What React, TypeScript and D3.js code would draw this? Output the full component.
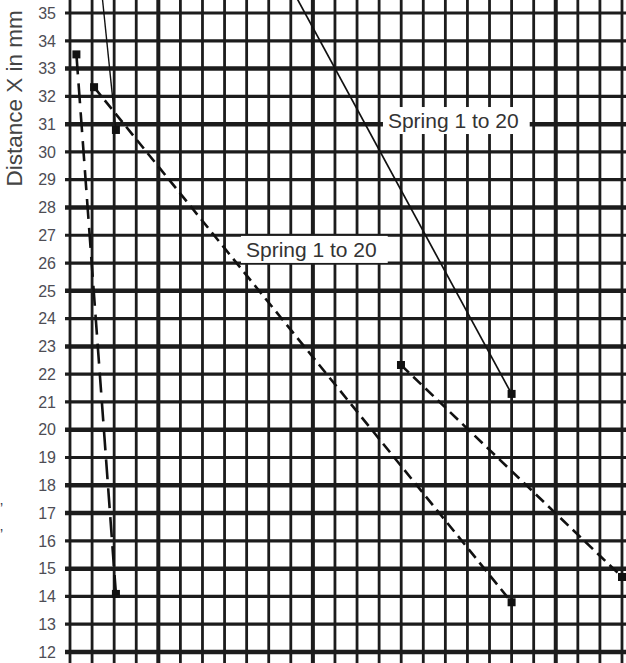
import React, { useEffect, useRef } from "react";
import * as d3 from "d3";

// y tick labels (distance X in mm)
const yTicks = [12, 13, 14, 15, 16, 17, 18, 19, 20, 21, 22, 23, 24, 25, 26, 27, 28, 29, 30, 31, 32, 33, 34, 35];
// heavier horizontal rules on the graph paper
const thickRows = [33, 31, 28, 25, 23, 20, 18, 17, 15, 12];
// vertical grid columns (unlabelled x axis)
const xCols = [0, 1, 2, 3, 4, 5, 6, 7, 8, 9, 10, 11, 12, 13, 14, 15, 16, 17, 18, 19, 20, 21, 22, 23, 24, 25];
const thickCols = [4, 11, 22];

// measured curves
const dashedSteep = [{ x: 0.29, y: 33.51 }, { x: 2.08, y: 14.09 }];
const dashedMid = [{ x: 1.09, y: 32.33 }, { x: 20.0, y: 13.79 }];
const dashedRight = [{ x: 14.99, y: 22.33 }, { x: 25.0, y: 14.7 }];
const solidSteep = [{ x: 1.38, y: 36.2 }, { x: 2.08, y: 30.79 }];
const solidRight = [{ x: 9.82, y: 36.2 }, { x: 20.0, y: 21.29 }];

// annotation labels
const labels = [
  { text: "Spring 1 to 20", x: 14.4, y: 30.86 },
  { text: "Spring 1 to 20", x: 7.97, y: 26.22 },
];

const W = 626;
const H = 663;

export default function App() {
  const ref = useRef<SVGSVGElement>(null);

  useEffect(() => {
    const svg = d3.select(ref.current);
    svg.selectAll("*").remove();

    const x = d3.scaleLinear().domain([0, 25]).range([70, 622]);
    const y = d3.scaleLinear().domain([12, 35]).range([652, 13]);

    svg.append("rect").attr("width", W).attr("height", H).attr("fill", "white");

    // grid
    const grid = svg.append("g");
    grid.selectAll(".col")
      .data(xCols)
      .join("line")
      .attr("x1", d => x(d)).attr("x2", d => x(d))
      .attr("y1", 0).attr("y2", H)
      .attr("stroke", "#1c1c1c")
      .attr("stroke-width", d => (thickCols.includes(d) ? 4 : 2.8));

    grid.selectAll(".row")
      .data(yTicks)
      .join("line")
      .attr("x1", 65).attr("x2", W)
      .attr("y1", d => y(d)).attr("y2", d => y(d))
      .attr("stroke", "#1c1c1c")
      .attr("stroke-width", d => (thickRows.includes(d) ? 4.5 : 3.2));

    // tick labels
    svg.append("g").selectAll("text")
      .data(yTicks)
      .join("text")
      .attr("x", 56)
      .attr("y", d => y(d))
      .attr("dy", "0.36em")
      .attr("text-anchor", "end")
      .attr("font-family", "'Liberation Sans', Arial, sans-serif")
      .attr("font-size", 16)
      .attr("fill", "#4d4d55")
      .text(d => d);

    // axis title
    svg.append("text")
      .attr("transform", `translate(22, ${(y(35) + y(29)) / 2 + 2}) rotate(-90)`)
      .attr("text-anchor", "middle")
      .attr("font-family", "'Liberation Sans', Arial, sans-serif")
      .attr("font-size", 22.5)
      .attr("fill", "#444")
      .text("Distance X in mm");

    // stray marks at the cropped left edge
    svg.append("g").selectAll("text")
      .data([505, 531])
      .join("text")
      .attr("x", 0).attr("y", d => d + 8)
      .attr("font-family", "'Liberation Sans', Arial, sans-serif")
      .attr("font-size", 14)
      .attr("fill", "#334")
      .text("’");

    // label boxes (white knock-out over the grid)
    const lab = svg.append("g");
    labels.forEach(l => {
      const t = lab.append("text")
        .attr("x", x(l.x)).attr("y", y(l.y))
        .attr("font-family", "'Liberation Sans', Arial, sans-serif")
        .attr("font-size", 21)
        .attr("fill", "#333")
        .text(l.text);
      const bb = (t.node() as SVGTextElement).getBBox();
      lab.insert("rect", "text")
        .attr("x", bb.x - 5)
        .attr("y", y(l.y) - 21)
        .attr("width", bb.width + 16)
        .attr("height", 27)
        .attr("fill", "white");
    });

    const line = d3.line<{ x: number; y: number }>().x(d => x(d.x)).y(d => y(d.y));

    const series = [
      { pts: dashedSteep, dash: "20,9", w: 2.6, marks: [0, 1] },
      { pts: dashedMid, dash: "11,6", w: 2.6, marks: [0, 1] },
      { pts: dashedRight, dash: "11,6", w: 2.6, marks: [0, 1] },
      { pts: solidSteep, dash: null, w: 1.4, marks: [1] },
      { pts: solidRight, dash: null, w: 1.7, marks: [1] },
    ];

    const lines = svg.append("g");
    series.forEach(s => {
      lines.append("path")
        .attr("d", line(s.pts))
        .attr("fill", "none")
        .attr("stroke", "#111")
        .attr("stroke-width", s.w)
        .attr("stroke-dasharray", s.dash);
      lines.selectAll(null)
        .data(s.marks.map(i => s.pts[i]))
        .join("rect")
        .attr("x", d => x(d.x) - 4)
        .attr("y", d => y(d.y) - 4)
        .attr("width", 8)
        .attr("height", 8)
        .attr("fill", "#111");
    });
  }, []);

  return (
    <svg
      ref={ref}
      width={W}
      height={H}
      style={{ position: "absolute", left: 0, top: 0, display: "block" }}
    />
  );
}
